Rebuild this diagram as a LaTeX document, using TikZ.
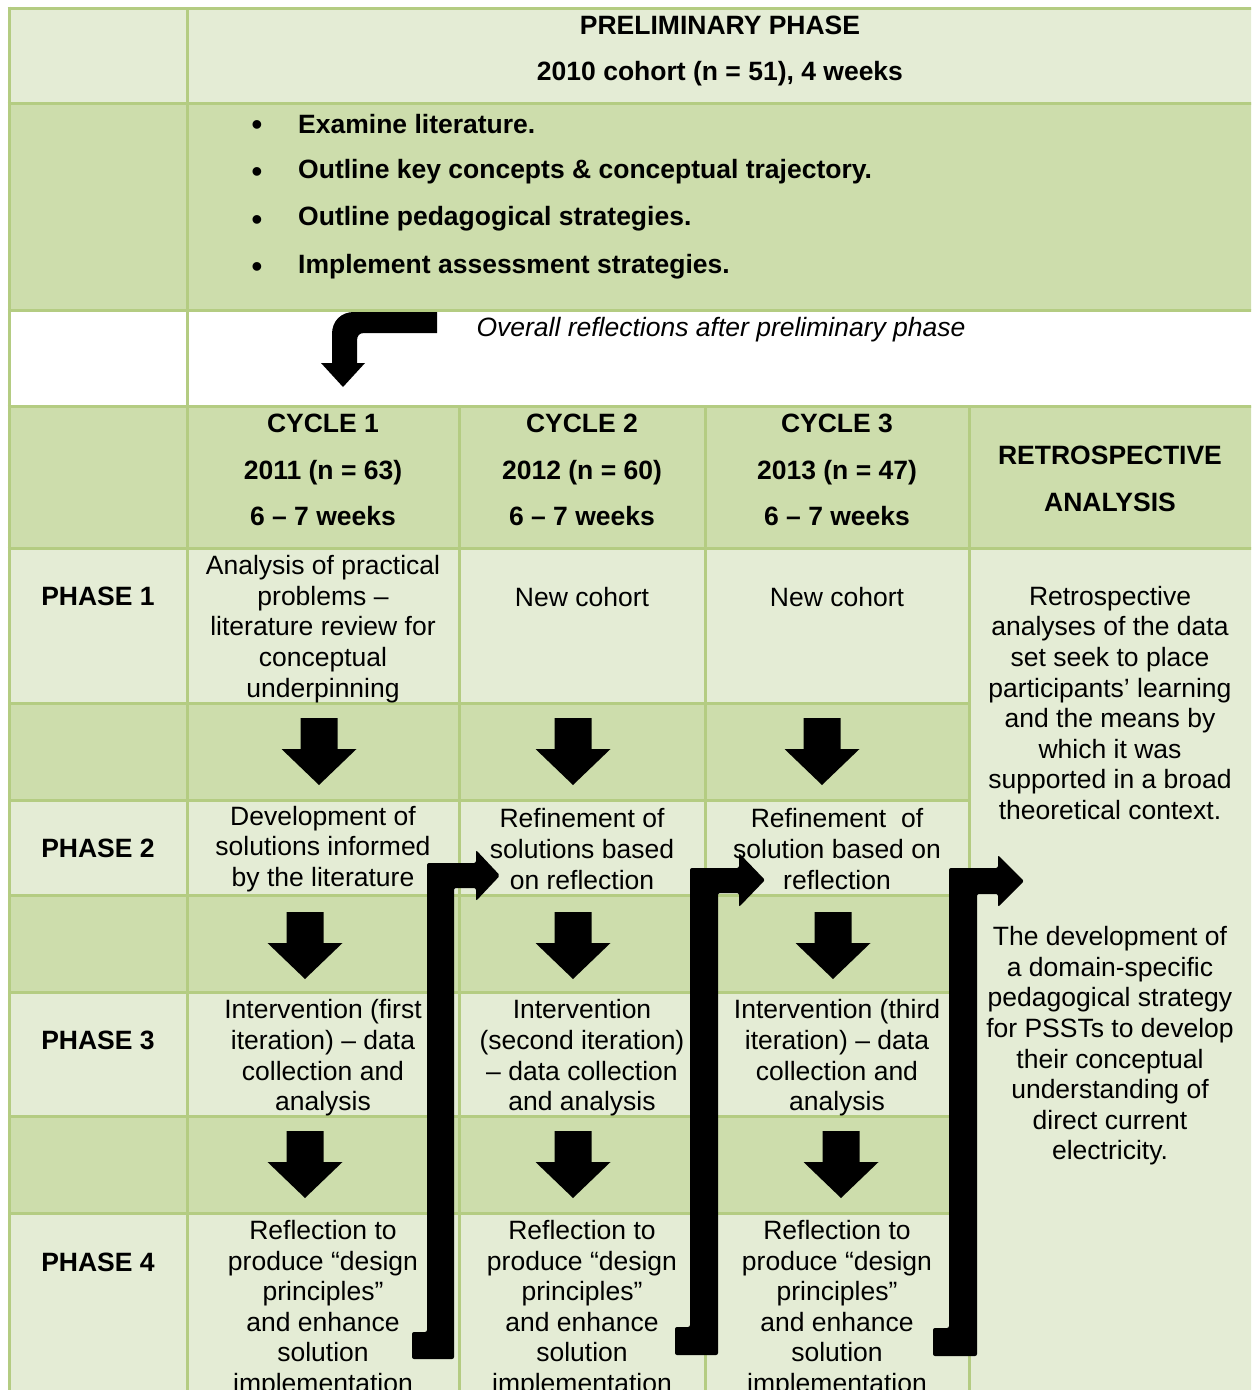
\documentclass[tikz,border=0pt]{standalone}
\usepackage{fontspec}
\setmainfont{Liberation Sans}
\begin{document}
\begin{tikzpicture}[x=1pt,y=-1pt]
\definecolor{rule}{RGB}{180,204,130}
\definecolor{lightcell}{RGB}{228,236,213}
\definecolor{darkcell}{RGB}{205,221,172}
\tikzset{
  gridline/.style={draw=rule, line width=3pt},
  cell/.style={font=\fontsize{26.5}{30.6}\selectfont, align=center, inner sep=0pt},
  headcell/.style={font=\fontsize{26.5}{46.5}\selectfont\bfseries, align=center, inner sep=0pt},
  bullettext/.style={font=\fontsize{26.5}{30}\selectfont\bfseries, anchor=west, inner sep=0pt},
  bulletmark/.style={font=\fontsize{32}{32}\selectfont, anchor=center, inner sep=0pt, yshift=-4pt},
  blockdown/.pic={\fill (-18.5,0) -- (18.5,0) -- (18.5,31) -- (37.5,31) -- (0,67) -- (-37.5,31) -- (-18.5,31) -- cycle;}
}
\useasboundingbox (0,0) rectangle (1251,1390);
\clip (0,0) rectangle (1251,1390);

% cell backgrounds
\fill[lightcell] (9,8) rectangle (1260,103);
\fill[darkcell] (9,103) rectangle (1260,310);
\fill[white] (9,310) rectangle (1260,406);
\fill[darkcell] (9,406) rectangle (1260,548);
\fill[lightcell] (9,548) rectangle (1260,1400);
\foreach \ya/\yb in {703/800, 895/992, 1116/1213}
  \fill[darkcell] (9,\ya) rectangle (969,\yb);

% table rules
\foreach \yy in {8,103,310,406,548}
  \draw[gridline] (7.5,\yy) -- (1260,\yy);
\foreach \yy in {703,800,895,992,1116,1213}
  \draw[gridline] (9,\yy) -- (969,\yy);
\draw[gridline] (9,6.5) -- (9,1400);
\draw[gridline] (187,8) -- (187,1400);
\foreach \xx in {459,705,969}
  \draw[gridline] (\xx,406) -- (\xx,1400);

% preliminary phase
\node[headcell] (prelim) at (720,51) {PRELIMINARY PHASE\\2010 cohort (n = 51), 4 weeks};
\foreach \yy/\txt [count=\i] in {124/Examine literature.,
    171.5/Outline key concepts \& conceptual trajectory.,
    219/Outline pedagogical strategies.,
    266.5/Implement assessment strategies.} {
  \node[bulletmark] (bul\i) at (257,\yy) {\textbullet};
  \node[bullettext] (task\i) at (298,\yy) {\txt};
}
\node[cell, font=\fontsize{26.5}{30}\selectfont\itshape] (overall) at (721,330) {Overall reflections after preliminary phase};

% bent arrow into the cycles
\fill (437,312) -- (354,312) .. controls (341,312) and (332,321) .. (332,334)
  -- (332,363) -- (321,363) -- (343,387) -- (365,363) -- (357,363) -- (357,341)
  .. controls (357,336) and (359,333) .. (364,333) -- (437,333) -- cycle;

% cycle headers
\node[headcell] (cyc1) at (323,470) {CYCLE 1\\2011 (n = 63)\\6 -- 7 weeks};
\node[headcell] (cyc2) at (582,470) {CYCLE 2\\2012 (n = 60)\\6 -- 7 weeks};
\node[headcell] (cyc3) at (837,470) {CYCLE 3\\2013 (n = 47)\\6 -- 7 weeks};
\node[headcell] (retro) at (1110,479) {RETROSPECTIVE\\ANALYSIS};

% phase labels
\node[headcell] (ph1) at (98,596) {PHASE 1};
\node[headcell] (ph2) at (98,848) {PHASE 2};
\node[headcell] (ph3) at (98,1040) {PHASE 3};
\node[headcell] (ph4) at (98,1262) {PHASE 4};

% phase 1
\node[cell] (a1) at (323,629) {Analysis of practical\\problems --\\literature review for\\conceptual\\underpinning};
\node[cell] (b1) at (582,597) {New cohort};
\node[cell] (c1) at (837,597) {New cohort};
\node[cell] (r1) at (1110,703) {Retrospective\\analyses of the data\\set seek to place\\participants’ learning\\and the means by\\which it was\\supported in a broad\\theoretical context.};

% phase 2
\node[cell] (a2) at (323,849) {Development of\\solutions informed\\by the literature};
\node[cell] (b2) at (582,849) {Refinement of\\solutions based\\on reflection};
\node[cell] (c2) at (837,849) {Refinement\ \ of\\solution based on\\reflection};
\node[cell] (r2) at (1110,1046) {The development of\\a domain-specific\\pedagogical strategy\\for PSSTs to develop\\their conceptual\\understanding of\\direct current\\electricity.};

% phase 3
\node[cell] (a3) at (323,1058) {Intervention (first\\iteration) -- data\\collection and\\analysis};
\node[cell] (b3) at (582,1058) {Intervention\\(second iteration)\\-- data collection\\and analysis};
\node[cell] (c3) at (837,1058) {Intervention (third\\iteration) -- data\\collection and\\analysis};

% phase 4
\foreach \xx/\nm in {323/a4, 582/b4, 837/c4}
  \node[cell, anchor=north] (\nm) at (\xx,1220) {Reflection to\\produce “design\\principles”\\and enhance\\solution\\implementation};

% downward block arrows between phases
\foreach \xx/\yy in {319/718, 573/718, 822/718, 305/912, 573/912, 833/912, 305/1131, 573/1131, 841/1131}
  \pic at (\xx,\yy) {blockdown};

% feedback arrows from reflection to the next cycle
\fill[rounded corners=2pt] (412,1332) -- (427,1332) -- (427,863) -- (476,863) -- (476,850)
  -- (500,875.5) -- (476,901) -- (476,888) -- (454,888) -- (454,1359) -- (412,1359) -- cycle;
\fill[rounded corners=2pt] (675,1327) -- (690,1327) -- (690,868) -- (739,868) -- (739,853)
  -- (765,880) -- (739,907) -- (739,893) -- (718,893) -- (718,1355) -- (675,1355) -- cycle;
\fill[rounded corners=2pt] (933,1328) -- (949,1328) -- (949,868) -- (998,868) -- (998,855)
  -- (1024,881) -- (998,907) -- (998,894) -- (977,894) -- (977,1356) -- (933,1356) -- cycle;
\end{tikzpicture}
\end{document}
